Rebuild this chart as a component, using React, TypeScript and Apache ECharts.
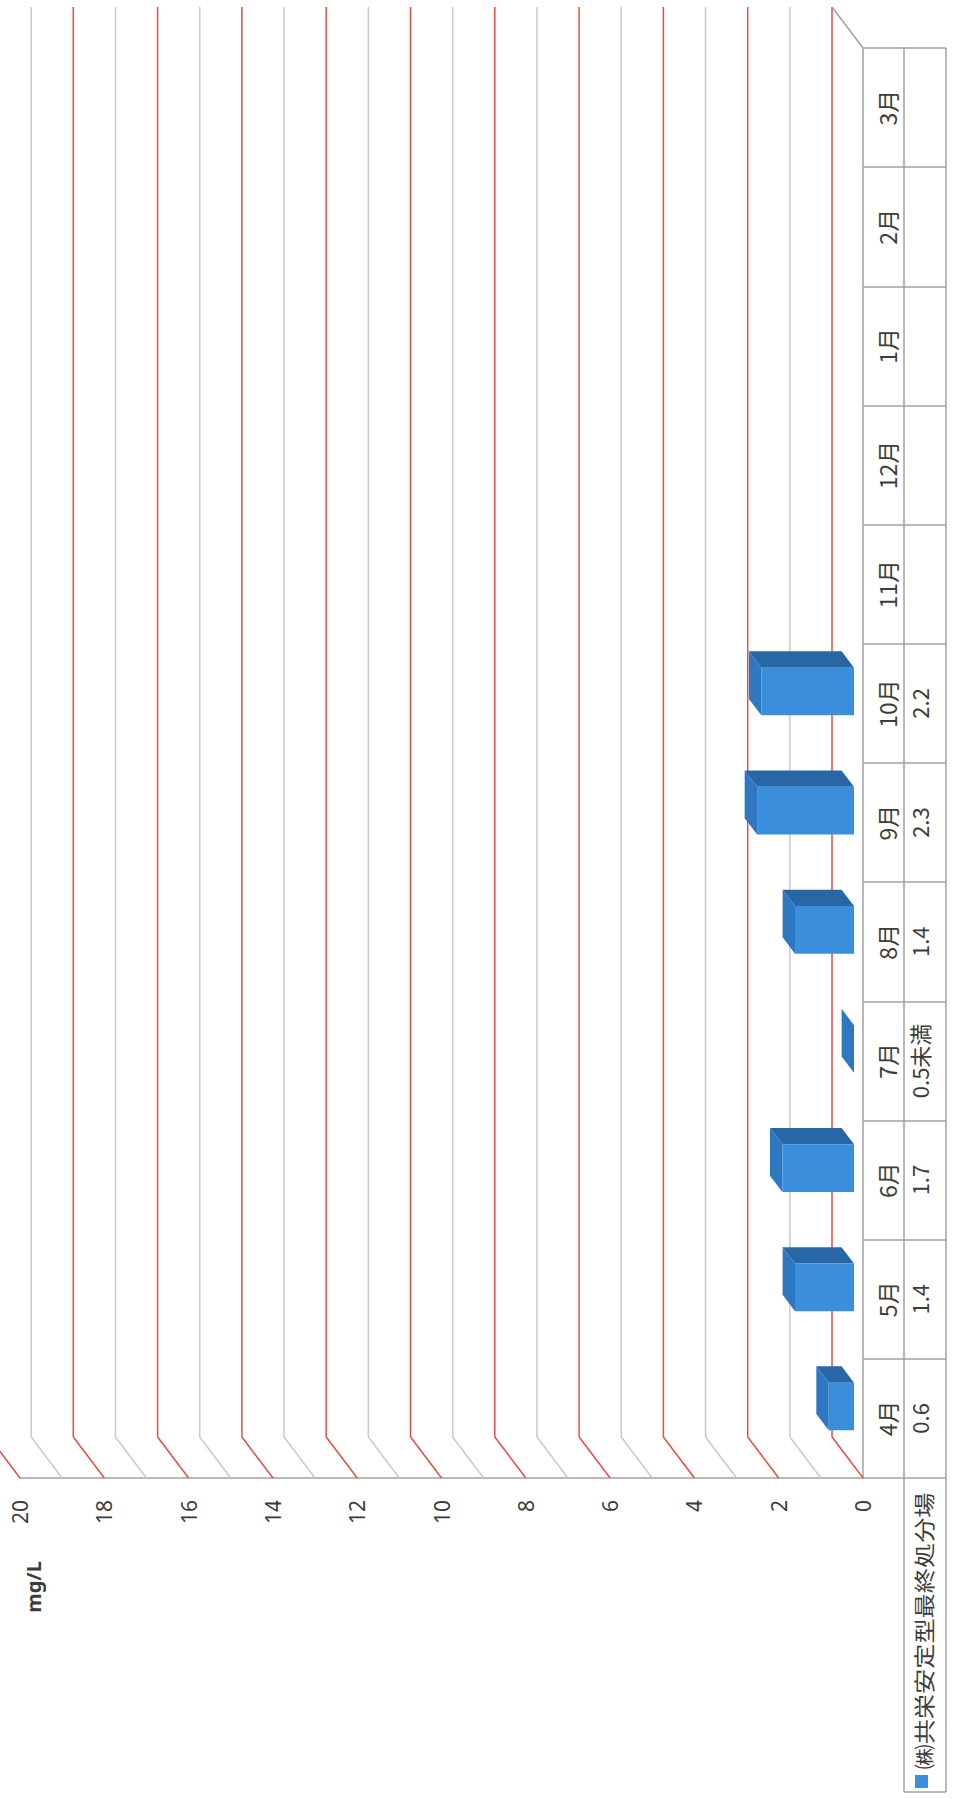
import React, { useEffect, useRef } from 'react';
import * as echarts from 'echarts';

// ---- data ----
const months = ['4月', '5月', '6月', '7月', '8月', '9月', '10月', '11月', '12月', '1月', '2月', '3月'];
const barValues: (number | null)[] = [0.6, 1.4, 1.7, 0, 1.4, 2.3, 2.2, null, null, null, null, null];
const tableText = ['0.6', '1.4', '1.7', '0.5未満', '1.4', '2.3', '2.2', '', '', '', '', ''];
const seriesName = '㈱共栄安定型最終処分場';
const unitLabel = 'mg/L';
const axisMin = 0;
const axisMax = 20;
const labelStep = 2;
const wallTicks = [0, 1, 2, 3, 4, 5, 6, 7, 8, 9, 10, 11, 12, 13, 14, 15, 16, 17, 18, 19, 20];

// ---- layout / style ----
const W = 953;
const H = 1799;
const FRONT = { left: 20, right: 90, top: 48, bottom: 321 };
const DX = -31;
const DY = -41;
const Z1 = 0.29;
const Z2 = 0.69;
const BAR_FRAC = 0.4;
const COL_W = 41;
const TABLE_W = 83;
const LEGEND_BOTTOM = 1792;
const RED = '#EE4A44';
const GRAY = '#CACACA';
const BORDER = '#A2A2A2';
const TEXT = '#3C3C3C';
const BLUE_FRONT = '#3A8EDB';
const BLUE_TOP = '#2767A6';
const BLUE_SIDE = '#2E78C2';
const LATIN = '"Noto Sans", "DejaVu Sans", sans-serif';
const CJK = '"Noto Sans CJK JP", "Noto Sans", sans-serif';

export default function App() {
  const ref = useRef<HTMLDivElement>(null);

  useEffect(() => {
    if (!ref.current) return;
    const chart = echarts.init(ref.current, null, { renderer: 'svg' });

    const frontRight = W - FRONT.right;
    const frontBottom = H - FRONT.bottom;

    const barData = barValues
      .map((v, i) => (v === null ? null : [v, i]))
      .filter((d) => d !== null) as number[][];

    const option: any = {
      animation: false,
      backgroundColor: '#ffffff',
      grid: [{ left: FRONT.left, right: FRONT.right, top: FRONT.top, bottom: FRONT.bottom, containLabel: false }],
      xAxis: [
        {
          gridIndex: 0,
          type: 'value',
          min: axisMin,
          max: axisMax,
          interval: labelStep,
          inverse: true,
          axisLine: { show: true, onZero: false, lineStyle: { color: BORDER, width: 1.5 } },
          axisTick: { show: false },
          splitLine: { show: false },
          axisLabel: { rotate: 90, margin: 22, fontSize: 21, color: TEXT, fontFamily: LATIN },
        },
      ],
      yAxis: [
        {
          gridIndex: 0,
          type: 'category',
          data: months,
          position: 'right',
          axisLine: { show: true, lineStyle: { color: BORDER, width: 1.5 } },
          axisTick: { show: true, length: TABLE_W, alignWithLabel: false, lineStyle: { color: BORDER, width: 1.5 } },
          axisLabel: { interval: 0, rotate: 90, margin: 12, fontSize: 23, color: TEXT, fontFamily: CJK },
          splitLine: { show: false },
        },
        {
          gridIndex: 0,
          type: 'category',
          data: tableText,
          position: 'right',
          offset: COL_W,
          axisLine: { show: true, lineStyle: { color: BORDER, width: 1.5 } },
          axisTick: { show: false },
          axisLabel: { interval: 0, rotate: 90, margin: 4, fontSize: 22, color: TEXT, fontFamily: CJK },
          splitLine: { show: false },
        },
      ],
      series: [
        {
          type: 'custom',
          name: 'walls',
          xAxisIndex: 0,
          yAxisIndex: 0,
          silent: true,
          clip: false,
          z: 1,
          data: [[0, 0]],
          renderItem: (params: any, api: any) => {
            const cs = params.coordSys;
            const yb = cs.y + cs.height;
            const yt = cs.y;
            const children: any[] = [];
            wallTicks.forEach((v) => {
              const x = api.coord([v, 0])[0];
              const stroke = v % 2 === 0 ? RED : GRAY;
              // side wall (floor-level) diagonal
              children.push({
                type: 'line',
                shape: { x1: x, y1: yb, x2: x + DX, y2: yb + DY },
                style: { stroke, lineWidth: 1.5 },
              });
              // back wall gridline
              children.push({
                type: 'line',
                shape: { x1: x + DX, y1: yt + DY, x2: x + DX, y2: yb + DY },
                style: { stroke, lineWidth: 1.5 },
              });
            });
            const x0 = api.coord([axisMin, 0])[0];
            children.push({
              type: 'line',
              shape: { x1: x0, y1: yt, x2: x0 + DX, y2: yt + DY },
              style: { stroke: BORDER, lineWidth: 1.5 },
            });
            return { type: 'group', children };
          },
        },
        {
          type: 'custom',
          name: seriesName,
          xAxisIndex: 0,
          yAxisIndex: 0,
          z: 3,
          clip: false,
          encode: { x: 0, y: 1 },
          data: barData,
          renderItem: (params: any, api: any) => {
            const v = api.value(0);
            const idx = api.value(1);
            const p0 = api.coord([axisMin, idx]);
            const p1 = api.coord([v, idx]);
            const band = api.size([0, 1])[1];
            const hw = (band * BAR_FRAC) / 2;
            const xr = p0[0];
            const xl = p1[0];
            const yt = p0[1] - hw;
            const yb = p0[1] + hw;
            const P = (x: number, y: number, z: number) => [x + DX * z, y + DY * z];
            const children: any[] = [];
            if (xr - xl > 0.5) {
              children.push({
                type: 'polygon',
                shape: { points: [P(xl, yt, Z1), P(xr, yt, Z1), P(xr, yt, Z2), P(xl, yt, Z2)] },
                style: { fill: BLUE_TOP },
              });
            }
            children.push({
              type: 'polygon',
              shape: { points: [P(xl, yt, Z1), P(xl, yb, Z1), P(xl, yb, Z2), P(xl, yt, Z2)] },
              style: { fill: BLUE_SIDE },
            });
            if (xr - xl > 0.5) {
              children.push({
                type: 'polygon',
                shape: { points: [P(xl, yt, Z1), P(xr, yt, Z1), P(xr, yb, Z1), P(xl, yb, Z1)] },
                style: { fill: BLUE_FRONT },
              });
            }
            return { type: 'group', children };
          },
        },
      ],
      graphic: [
        {
          type: 'text',
          x: 33,
          y: 1587,
          rotation: Math.PI / 2,
          style: {
            text: unitLabel,
            fontSize: 20,
            fontWeight: 'bold',
            fontFamily: LATIN,
            fill: TEXT,
            align: 'center',
            verticalAlign: 'middle',
          },
        },
        {
          type: 'line',
          shape: { x1: frontRight + TABLE_W, y1: FRONT.top, x2: frontRight + TABLE_W, y2: LEGEND_BOTTOM },
          style: { stroke: BORDER, lineWidth: 1.5 },
        },
        {
          type: 'line',
          shape: { x1: frontRight + COL_W, y1: frontBottom, x2: frontRight + COL_W, y2: LEGEND_BOTTOM },
          style: { stroke: BORDER, lineWidth: 1.5 },
        },
        {
          type: 'line',
          shape: { x1: frontRight + COL_W, y1: LEGEND_BOTTOM, x2: frontRight + TABLE_W, y2: LEGEND_BOTTOM },
          style: { stroke: BORDER, lineWidth: 1.5 },
        },
        {
          type: 'rect',
          shape: { x: 915, y: 1775, width: 13, height: 13 },
          style: { fill: BLUE_FRONT },
        },
        {
          type: 'text',
          x: 923,
          y: 1631,
          rotation: Math.PI / 2,
          scaleX: 1.2,
          style: {
            text: seriesName,
            fontSize: 21,
            fontFamily: CJK,
            fill: TEXT,
            align: 'center',
            verticalAlign: 'middle',
          },
        },
      ],
    };

    chart.setOption(option);
    return () => {
      chart.dispose();
    };
  }, []);

  return (
    <div
      ref={ref}
      style={{ position: 'absolute', left: 0, top: 0, width: W, height: H, background: '#ffffff' }}
    />
  );
}
